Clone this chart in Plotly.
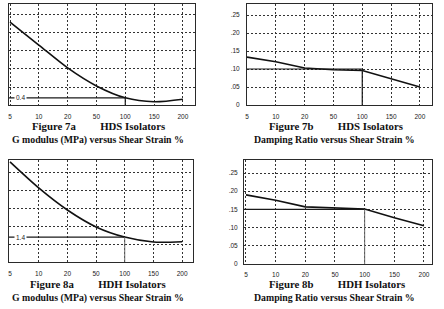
import plotly.graph_objects as go

# ---------------- data ----------------
strain_labels = ["5", "10", "20", "50", "100", "150", "200"]
strain_idx = list(range(len(strain_labels)))

g_hds = [4.6, 3.33, 2.06, 1.06, 0.4, 0.18, 0.32]          # Figure 7a (MPa)
damp_hds = [0.133, 0.12, 0.103, 0.098, 0.096, 0.072, 0.05]  # Figure 7b
g_hdh = [5.62, 4.16, 2.92, 1.97, 1.4, 1.12, 1.14]          # Figure 8a (MPa)
damp_hdh = [0.19, 0.175, 0.157, 0.154, 0.151, 0.127, 0.105]  # Figure 8b

ref_7a, ref_7b, ref_8a, ref_8b = 0.4, 0.10, 1.4, 0.15
ref_strain_idx = 4  # 100 %

g_ticks = [0, 1, 2, 3, 4, 5]
d_ticks = [0, 0.05, 0.10, 0.15, 0.20, 0.25]
d_ticktext = ["0", ".05", ".10", ".15", ".20", ".25"]

W, H = 444, 309


def px(x):
    return x / W


def py(y):
    return 1 - y / H


fig = go.Figure()

grid_col = "#333333"
frame_col = "#2a2a2a"
tick_font = dict(family="Liberation Sans", size=6.5, color="#222222")

panels = [
    dict(n="", xd=(9, 195), yd=(4, 105), xr=(-0.035, 6.42), yr=(0, 5.61),
         y=g_hds, ref=ref_7a, tv=g_ticks, tt=[str(v) for v in g_ticks], spline=True,
         ylab_standoff=7, xlab_standoff=5),
    dict(n="2", xd=(247, 432), yd=(4, 105), xr=(0, 6.42), yr=(0, 0.2806),
         y=damp_hds, ref=ref_7b, tv=d_ticks, tt=d_ticktext, spline=False,
         ylab_standoff=5, xlab_standoff=5),
    dict(n="3", xd=(9, 193), yd=(160, 262), xr=(-0.035, 6.38), yr=(0, 5.73),
         y=g_hdh, ref=ref_8a, tv=g_ticks, tt=[str(v) for v in g_ticks], spline=True,
         ylab_standoff=7, xlab_standoff=5),
    dict(n="4", xd=(244, 432), yd=(160, 264), xr=(-0.067, 6.27), yr=(0, 0.2857),
         y=damp_hdh, ref=ref_8b, tv=d_ticks, tt=d_ticktext, spline=False,
         ylab_standoff=4, xlab_standoff=4),
]

for i, p in enumerate(panels):
    xa = "x" + p["n"]
    ya = "y" + p["n"]
    fig.add_trace(go.Scatter(
        x=strain_idx, y=p["y"], mode="lines", xaxis=xa, yaxis=ya,
        line=dict(color="#111111", width=1.6,
                  shape="spline" if p["spline"] else "linear", smoothing=0.8),
        showlegend=False, hoverinfo="skip"))
    fig.add_trace(go.Scatter(
        x=[p["xr"][0], ref_strain_idx], y=[p["ref"], p["ref"]], mode="lines",
        xaxis=xa, yaxis=ya, line=dict(color="#1a1a1a", width=1.2),
        showlegend=False, hoverinfo="skip"))
    vcol = "#1a1a1a" if i < 2 else "#666666"
    fig.add_trace(go.Scatter(
        x=[ref_strain_idx, ref_strain_idx],
        y=[p["ref"], p["yr"][0] - (p["yr"][1] - p["yr"][0]) * 0.05],
        mode="lines", xaxis=xa, yaxis=ya, cliponaxis=False,
        line=dict(color=vcol, width=1.2 if i < 2 else 1),
        showlegend=False, hoverinfo="skip"))

    xkey = "xaxis" + p["n"]
    ykey = "yaxis" + p["n"]
    common = dict(showgrid=True, gridcolor=grid_col, griddash="2px,2px", gridwidth=1,
                  showline=True, mirror=True, linecolor=frame_col, linewidth=1,
                  ticks="", tickfont=tick_font, zeroline=False, automargin=False,
                  fixedrange=True, layer="above traces")
    fig.update_layout({
        xkey: dict(domain=[px(p["xd"][0]), px(p["xd"][1])], range=list(p["xr"]),
                   anchor=ya, tickmode="array", tickvals=strain_idx, ticktext=strain_labels,
                   ticklabelstandoff=p["xlab_standoff"], **common),
        ykey: dict(domain=[py(p["yd"][1]), py(p["yd"][0])], range=list(p["yr"]),
                   anchor=xa, tickmode="array", tickvals=p["tv"], ticktext=p["tt"],
                   ticklabelstandoff=p["ylab_standoff"], **common),
    })

title_font = dict(family="Liberation Serif", size=10.5, color="#111111", weight="bold")
sp = "\u00a0" * 9
titles = [
    (98.5, 126, "Figure 7a" + sp + "HDS Isolators", 10.8),
    (97.5, 139.5, "G modulus (MPa) versus Shear Strain %", 9.8),
    (335.5, 126, "Figure 7b" + sp + "HDS Isolators", 10.8),
    (334.5, 139.5, "Damping Ratio versus Shear Strain %", 9.8),
    (98, 284, "Figure 8a" + sp + "HDH Isolators", 10.8),
    (97.5, 297.5, "G modulus (MPa) versus Shear Strain %", 9.8),
    (336.5, 284, "Figure 8b" + sp + "HDH Isolators", 10.8),
    (334.5, 297.5, "Damping Ratio versus Shear Strain %", 9.8),
]
annotations = []
for x, y, t, s in titles:
    f = dict(title_font)
    f["size"] = s
    annotations.append(dict(x=px(x), y=py(y), xref="paper", yref="paper", text=t,
                            showarrow=False, xanchor="center", yanchor="middle",
                            font=f))

annotations.append(dict(x=-0.035 + 0.4, y=ref_7a, xref="x", yref="y", text="0.4",
                        showarrow=False, xanchor="center", yanchor="middle",
                        bgcolor="white", borderpad=1,
                        font=dict(family="Liberation Sans", size=6.5, color="#222")))
annotations.append(dict(x=-0.035 + 0.4, y=ref_8a, xref="x3", yref="y3", text="1.4",
                        showarrow=False, xanchor="center", yanchor="middle",
                        bgcolor="white", borderpad=1,
                        font=dict(family="Liberation Sans", size=6.5, color="#222")))

fig.update_layout(
    width=W, height=H, margin=dict(l=0, r=0, t=0, b=0),
    paper_bgcolor="white", plot_bgcolor="white",
    annotations=annotations, showlegend=False,
)

fig.write_html("out.html", config={"displayModeBar": False})
